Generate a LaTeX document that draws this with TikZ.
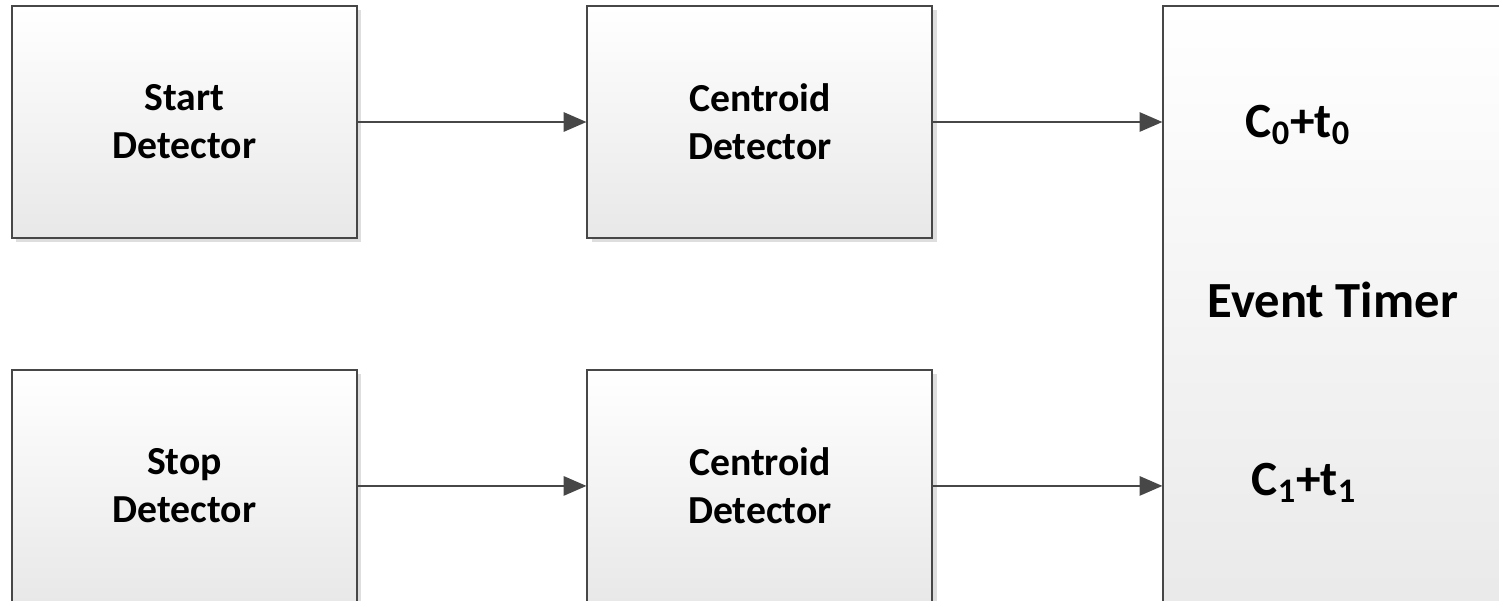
\documentclass[tikz,border=0pt]{standalone}
\usepackage{fontspec}
\setmainfont{Carlito}
\usetikzlibrary{positioning,shadows,arrows.meta}

\tikzset{
  block/.style={draw=black!72, line width=1.1pt, top color=white, bottom color=black!9,
    minimum width=6.9cm, minimum height=4.64cm, align=center,
    font=\bfseries\fontsize{22.6}{27.3}\selectfont,
    drop shadow={shadow xshift=2.5pt, shadow yshift=-2.5pt, fill=black!13, opacity=1}},
  lbl/.style={font=\bfseries\fontsize{28}{32}\selectfont},
  link/.style={draw=black!72, line width=1.1pt, -{Triangle[length=13pt,width=11pt]}}
}

\begin{document}
\begin{tikzpicture}
  \clip (0,0) rectangle (29.98,-12);
  \fill[white] (0,0) rectangle (29.98,-12);

  % detectors
  \node[block] (start) at (3.69,-2.44) {Start\\Detector};
  \node[block, right=4.57cm of start] (cent1) {Centroid\\Detector};
  \node[block, below=2.6cm of start] (stop) {Stop\\Detector};
  \node[block, right=4.57cm of stop] (cent2) {Centroid\\Detector};

  % timer, runs off the page
  \node[block, anchor=north west, minimum width=7.4cm, minimum height=12.8cm]
    (timer) at ([xshift=4.58cm]cent1.north east) {};
  \node[font=\bfseries\fontsize{28.8}{32}\selectfont] (timerlbl) at (26.66,-6.0) {Event Timer};
  \node[lbl] (c0) at (25.96,-2.5) {C\textsubscript{0}+t\textsubscript{0}};
  \node[lbl] (c1) at (26.08,-9.66) {C\textsubscript{1}+t\textsubscript{1}};

  % signal path
  \draw[link] (start) -- (cent1);
  \draw[link] (stop) -- (cent2);
  \draw[link] (cent1) -- (cent1 -| timer.west);
  \draw[link] (cent2) -- (cent2 -| timer.west);
\end{tikzpicture}
\end{document}
